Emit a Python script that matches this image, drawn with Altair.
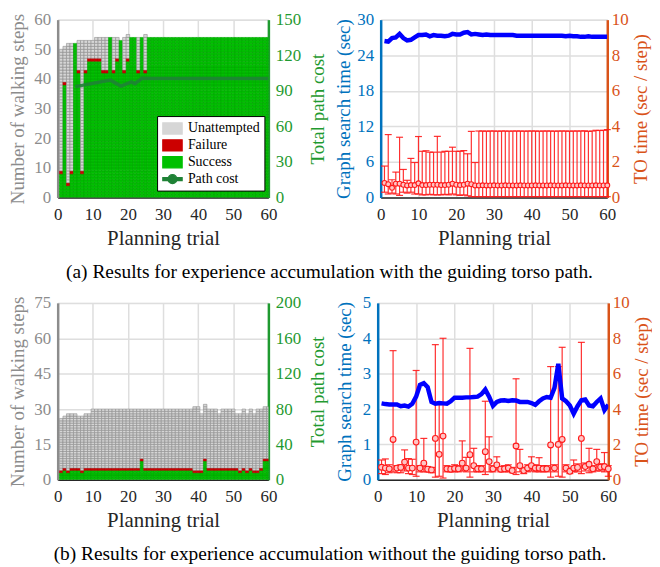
import altair as alt
import pandas as pd

SERIF = "Liberation Serif"
DARK = "#262626"
GRID = "#dedede"
GRAY = "#8c8c8c"
GREEN_AX = "#1f9a30"
BLUE_AX = "#0072bd"
ORANGE_AX = "#d95319"
BLUE_LINE = "#0000ff"
RED = "#ff1a1a"

trials = list(range(1, 61))
x_ticks = [0, 10, 20, 30, 40, 50, 60]

# ---------- (a) left: walking steps per trial ----------
tl_total = [50, 51, 52, 52, 52, 53, 53, 53, 53, 53,
            54, 54, 54, 54, 54, 54, 54, 53, 54, 55,
            54, 54, 54, 54, 55, 54, 54, 54, 54, 54,
            54, 54, 54, 54, 54, 54, 54, 54, 54, 54,
            54, 54, 54, 54, 54, 54, 54, 54, 54, 54,
            54, 54, 54, 54, 54, 54, 54, 54, 54, 54]
tl_success = [8, 38, 4, 8, 52, 42, 8, 42, 46, 46,
              46, 46, 42, 42, 54, 42, 46, 53, 42, 46,
              54, 54, 42, 54, 42, 54, 54, 54, 54, 54,
              54, 54, 54, 54, 54, 54, 54, 54, 54, 54,
              54, 54, 54, 54, 54, 54, 54, 54, 54, 54,
              54, 54, 54, 54, 54, 54, 54, 54, 54, 54]
tl_cost_trial = [5, 15, 18, 21, 22, 24, 26, 27, 28, 29, 30,
                 31, 32, 33, 34, 35, 36, 37, 38, 39, 40,
                 41, 42, 43, 44, 45, 46, 47, 48, 49, 50,
                 51, 52, 53, 54, 55, 56, 57, 58, 59, 60]
tl_cost = [93.5, 99.0, 94.0, 97.5, 96.0, 100.5, 100.3, 100.3, 100.3, 100.3, 100.3,
           100.3, 100.3, 100.3, 100.3, 100.3, 100.3, 100.3, 100.3, 100.3, 100.3,
           100.3, 100.3, 100.3, 100.3, 100.3, 100.3, 100.3, 100.3, 100.3, 100.3,
           100.3, 100.3, 100.3, 100.3, 100.3, 100.3, 100.3, 100.3, 100.3, 100.3]

# ---------- (a) right: times ----------
tr_graph = [26.4, 26.3, 26.9, 27.0, 27.6, 26.9, 26.5, 26.6, 27.0, 27.4,
            27.4, 27.5, 27.2, 27.4, 27.3, 27.3, 27.2, 27.3, 27.6, 27.5,
            27.5, 27.8, 27.9, 27.5, 27.6, 27.5, 27.4, 27.5, 27.4, 27.4,
            27.4, 27.4, 27.4, 27.4, 27.4, 27.3, 27.3, 27.3, 27.3, 27.3,
            27.3, 27.3, 27.3, 27.3, 27.3, 27.3, 27.3, 27.3, 27.2, 27.3,
            27.2, 27.2, 27.1, 27.1, 27.2, 27.1, 27.1, 27.1, 27.1, 27.1]
tr_mean = [0.82, 0.75, 0.55, 0.78, 0.78, 0.72, 0.68, 0.70, 0.70, 0.80,
           0.70, 0.70, 0.72, 0.72, 0.72, 0.70, 0.70, 0.72, 0.78, 0.72,
           0.70, 0.72, 0.78, 0.75, 0.68, 0.68, 0.69, 0.68, 0.68, 0.69,
           0.68, 0.68, 0.69, 0.68, 0.68, 0.68, 0.69, 0.68, 0.68, 0.68,
           0.69, 0.68, 0.68, 0.68, 0.69, 0.68, 0.68, 0.68, 0.69, 0.68,
           0.68, 0.68, 0.69, 0.68, 0.68, 0.68, 0.69, 0.68, 0.68, 0.69]
tr_hi = [1.77, 3.54, 1.00, 1.43, 3.39, 1.58, 0.97, 2.20, 1.97, 3.43,
         2.60, 2.63, 2.55, 2.55, 3.44, 2.55, 2.60, 2.60, 2.83, 2.60,
         2.60, 2.64, 2.46, 3.72, 1.97, 3.74, 3.74, 3.73, 3.74, 3.74,
         3.73, 3.74, 3.74, 3.73, 3.74, 3.74, 3.74, 3.73, 3.74, 3.74,
         3.74, 3.73, 3.74, 3.74, 3.74, 3.73, 3.74, 3.74, 3.74, 3.73,
         3.74, 3.74, 3.74, 3.75, 3.72, 3.74, 3.78, 3.77, 3.78, 3.82]
tr_lo = [0.30, 0.20, 0.25, 0.20, 0.12, 0.30, 0.25, 0.30, 0.20, 0.20,
         0.15, 0.15, 0.18, 0.15, 0.15, 0.15, 0.18, 0.15, 0.20, 0.15,
         0.12, 0.15, 0.10, 0.05, 0.05, 0.05, 0.05, 0.05, 0.05, 0.05,
         0.05, 0.05, 0.05, 0.05, 0.05, 0.05, 0.05, 0.05, 0.05, 0.05,
         0.05, 0.05, 0.05, 0.05, 0.05, 0.05, 0.05, 0.05, 0.05, 0.05,
         0.05, 0.05, 0.05, 0.05, 0.05, 0.05, 0.05, 0.05, 0.05, 0.05]

# ---------- (b) left: walking steps per trial ----------
bl_total = [26, 27, 28, 28, 28, 27, 27, 28, 28, 30,
            30, 30, 30, 30, 30, 30, 30, 30, 30, 30,
            30, 30, 30, 30, 30, 30, 30, 30, 30, 30,
            30, 30, 30, 30, 30, 30, 30, 30, 31, 31,
            28, 32, 30, 30, 30, 28, 30, 30, 30, 30,
            28, 28, 30, 28, 30, 28, 30, 30, 31, 31]
bl_success = [3, 4, 3, 4, 4, 4, 3, 4, 4, 4,
              4, 4, 4, 4, 4, 4, 4, 4, 4, 4,
              4, 4, 4, 8, 4, 4, 4, 4, 4, 4,
              4, 4, 4, 4, 4, 4, 4, 4, 3, 3,
              3, 8, 4, 4, 4, 4, 4, 4, 4, 4,
              4, 3, 4, 3, 4, 3, 3, 4, 8, 8]

# ---------- (b) right: times ----------
br_graph = [2.16, 2.14, 2.13, 2.13, 2.13, 2.08, 2.10, 2.07, 2.15, 2.35,
            2.68, 2.73, 2.62, 2.20, 2.15, 2.17, 2.16, 2.15, 2.22, 2.32,
            2.32, 2.32, 2.33, 2.33, 2.34, 2.35, 2.42, 2.55, 2.35, 2.09,
            2.20, 2.24, 2.25, 2.23, 2.25, 2.24, 2.20, 2.20, 2.20, 2.17,
            2.12, 2.22, 2.30, 2.34, 2.32, 2.60, 3.28, 2.30, 2.22, 2.10,
            1.87, 2.08, 2.25, 2.27, 2.10, 2.08, 2.20, 2.30, 1.97, 2.12]
br_mean = [0.71, 0.66, 0.62, 2.28, 0.66, 0.70, 1.00, 0.66, 0.66, 2.13,
           0.66, 0.94, 0.60, 0.56, 2.34, 1.44, 2.47, 0.62, 0.60, 0.64,
           0.62, 0.94, 0.66, 1.42, 0.80, 0.62, 0.62, 1.59, 1.03, 0.62,
           0.84, 0.60, 0.62, 0.66, 0.52, 1.91, 0.80, 0.52, 0.66, 0.80,
           0.66, 0.66, 0.62, 0.62, 1.97, 0.66, 2.00, 2.28, 0.66, 0.48,
           0.66, 0.70, 2.34, 0.75, 0.88, 0.62, 1.03, 0.72, 0.75, 0.62]
br_hi = [1.12, 1.18, 0.85, 7.30, 0.80, 0.85, 1.69, 1.20, 1.16, 6.18,
         0.80, 2.34, 0.75, 0.70, 7.64, 4.25, 8.00, 0.80, 0.75, 0.85,
         0.80, 2.20, 1.27, 7.43, 1.78, 0.80, 0.80, 4.44, 2.43, 0.80,
         1.30, 0.75, 0.80, 0.85, 0.70, 5.71, 1.72, 0.70, 0.85, 1.30,
         0.85, 1.25, 0.80, 0.80, 6.40, 0.85, 6.40, 7.49, 0.85, 0.65,
         1.12, 0.90, 7.77, 0.95, 1.78, 0.80, 1.72, 0.90, 1.54, 0.80]
br_lo = [0.35, 0.30, 0.40, 0.45, 0.40, 0.40, 0.50, 0.35, 0.30, 0.20,
         0.45, 0.45, 0.45, 0.40, 0.15, 0.20, 0.10, 0.45, 0.45, 0.45,
         0.45, 0.50, 0.45, 0.15, 0.45, 0.45, 0.45, 0.30, 0.45, 0.45,
         0.55, 0.45, 0.45, 0.45, 0.40, 0.30, 0.45, 0.35, 0.45, 0.50,
         0.45, 0.45, 0.45, 0.45, 0.15, 0.45, 0.20, 0.15, 0.45, 0.35,
         0.45, 0.45, 0.35, 0.50, 0.40, 0.45, 0.50, 0.50, 0.45, 0.20]

caption_a = "(a) Results for experience accumulation with the guiding torso path."
caption_b = "(b) Results for experience accumulation without the guiding torso path."

status_dom = ["Unattempted", "Failure", "Success", "Path cost"]
fill_rng = ["#d6d6d6", "#cc0000", "#00c000", "#1f8236"]
stroke_rng = ["#8e8e8e", "#b00000", "#00a800", "#1f8236"]

XTITLE_FS = 21
YTITLE_FS = 19
LABEL_FS = 17


def cells(total, success):
    rows = []
    for t, T, S in zip(trials, total, success):
        for s in range(T):
            if s < S:
                st = "Success"
            elif s == S:
                st = "Failure"
            else:
                st = "Unattempted"
            rows.append({"x0": t - 0.5, "x1": t + 0.5, "s0": s, "s1": s + 1, "status": st})
    return pd.DataFrame(rows)


def x_axis():
    return alt.Axis(values=x_ticks, title="Planning trial", titleFont=SERIF,
                    titleFontSize=XTITLE_FS, titleFontWeight="normal", titleColor=DARK,
                    labelFont=SERIF, labelFontSize=LABEL_FS, labelColor=DARK,
                    domainColor=DARK, domainWidth=1.5, ticks=False, labelPadding=9,
                    titlePadding=5, gridColor=GRID, gridWidth=1.5, labelFlush=False)


def y_axis(title, color, values, orient, grid, lpad, tpad):
    extra = {}
    if orient == "right":
        extra["titleBaseline"] = "top"
    return alt.Axis(title=title, orient=orient, values=values, titleFont=SERIF,
                    titleFontSize=YTITLE_FS, titleFontWeight="normal", titleColor=color,
                    labelFont=SERIF, labelFontSize=LABEL_FS, labelColor=color,
                    domainColor=color, domainWidth=2.5, ticks=False, labelPadding=lpad,
                    titlePadding=tpad, grid=grid, gridColor=GRID, gridWidth=1.5,
                    titleAngle=270, labelFlush=False, **extra)


x_scale = alt.Scale(domain=[0, 60], nice=False, zero=False)

PATCH = "M-1.3,-0.75L1.3,-0.75L1.3,0.75L-1.3,0.75Z"
COSTSYM = ("M-1.3,-0.2L1.3,-0.2L1.3,0.2L-1.3,0.2Z"
           "M0.6,0A0.6,0.6,0,1,1,-0.6,0A0.6,0.6,0,1,1,0.6,0Z")

legend_a = alt.Legend(
    title=None, orient="none", legendX=100, legendY=97,
    fillColor="white", strokeColor="black", padding=4,
    labelFont=SERIF, labelFontSize=14, labelColor="black",
    symbolSize=225, rowPadding=0, labelOffset=7, symbolOffset=3, symbolOpacity=1,
    symbolStrokeWidth=1.2,
    symbolType={"expr": "datum.value == 'Path cost' ? '" + COSTSYM + "' : '" + PATCH + "'"},
    symbolStrokeColor={"expr": "datum.value == 'Unattempted' ? '#555555' : (datum.value == 'Path cost' ? '#1f8236' : 'transparent')"},
)


def steps_panel(total, success, cost_trial, cost, ymax, yticks, cmax, cticks, legend, h):
    cell_df = cells(total, success)
    rects = alt.Chart(cell_df).mark_rect(strokeWidth=0.6, clip=True).encode(
        x=alt.X("x0:Q", scale=x_scale, axis=x_axis()),
        x2="x1:Q",
        y=alt.Y("s0:Q", scale=alt.Scale(domain=[0, ymax], nice=False),
                axis=y_axis("Number of walking steps", GRAY, yticks, "left", True, 7, 6)),
        y2="s1:Q",
        color=alt.Color("status:N", scale=alt.Scale(domain=status_dom, range=fill_rng),
                        legend=legend),
        stroke=alt.Stroke("status:N", scale=alt.Scale(domain=status_dom, range=stroke_rng),
                          legend=None),
    )
    cost_df = pd.DataFrame({"trial": cost_trial, "cost": cost,
                            "status": ["Path cost"] * len(cost_trial)})
    line = alt.Chart(cost_df).mark_line(strokeWidth=3.5, clip=True, opacity=0.9).encode(
        x=alt.X("trial:Q", scale=x_scale, axis=x_axis()),
        y=alt.Y("cost:Q", scale=alt.Scale(domain=[0, cmax], nice=False),
                axis=y_axis("Total path cost", GREEN_AX, cticks, "right", False, 7, 8)),
        color=alt.Color("status:N", scale=alt.Scale(domain=status_dom, range=fill_rng),
                        legend=legend),
    )
    return alt.layer(rects, line).resolve_scale(y="independent").properties(width=212, height=h)


def time_panel(graph, mean, hi, lo, gmax, gticks, w, h, msize, lpad, tpad):
    df = pd.DataFrame({"trial": trials, "graph": graph, "mean": mean, "hi": hi, "lo": lo})
    to_axis = y_axis("TO time (sec / step)", ORANGE_AX, [0, 2, 4, 6, 8, 10], "right", False, 4, 3)
    to_scale = alt.Scale(domain=[0, 10], nice=False)
    bars = alt.Chart(df).mark_rule(color=RED, strokeWidth=1.2, opacity=0.9).encode(
        x=alt.X("trial:Q", scale=x_scale, axis=x_axis()),
        y=alt.Y("lo:Q", scale=to_scale, axis=to_axis), y2="hi:Q")
    cap_hi = alt.Chart(df).mark_tick(color=RED, orient="horizontal", size=7, thickness=1.2,
                                     opacity=0.9).encode(
        x=alt.X("trial:Q", scale=x_scale, axis=x_axis()),
        y=alt.Y("hi:Q", scale=to_scale, axis=to_axis))
    cap_lo = alt.Chart(df).mark_tick(color=RED, orient="horizontal", size=7, thickness=1.2,
                                     opacity=0.9).encode(
        x=alt.X("trial:Q", scale=x_scale, axis=x_axis()),
        y=alt.Y("lo:Q", scale=to_scale, axis=to_axis))
    pts = alt.Chart(df).mark_point(shape="circle", size=msize, fill="#ffc4c4", fillOpacity=1,
                                   stroke=RED, strokeWidth=1.1, opacity=1).encode(
        x=alt.X("trial:Q", scale=x_scale, axis=x_axis()),
        y=alt.Y("mean:Q", scale=to_scale, axis=to_axis))
    red = alt.layer(bars, cap_hi, cap_lo, pts)
    blue = alt.Chart(df).mark_line(color=BLUE_LINE, strokeWidth=4.5, clip=True).encode(
        x=alt.X("trial:Q", scale=x_scale, axis=x_axis()),
        y=alt.Y("graph:Q", scale=alt.Scale(domain=[0, gmax], nice=False),
                axis=y_axis("Graph search time (sec)", BLUE_AX, gticks, "left", True, lpad, tpad)))
    return alt.layer(red, blue).resolve_scale(y="independent").properties(width=w, height=h)


tl = steps_panel(tl_total, tl_success, tl_cost_trial, tl_cost, 60, [0, 10, 20, 30, 40, 50, 60],
                 150, [0, 30, 60, 90, 120, 150], legend_a, 179)
tr = time_panel(tr_graph, tr_mean, tr_hi, tr_lo, 30, [0, 6, 12, 18, 24, 30], 228, 179, 24, 7, 3)
bl = steps_panel(bl_total, bl_success, [], [], 75, [0, 15, 30, 45, 60, 75],
                 200, [0, 40, 80, 120, 160, 200], None, 178)
br = time_panel(br_graph, br_mean, br_hi, br_lo, 5, [0, 1, 2, 3, 4, 5], 232, 178, 34, 7, 8)


def cap(text):
    return alt.TitleParams(text=text, orient="bottom", anchor="middle", font=SERIF,
                           fontSize=19.5, fontWeight="normal", color="black", offset=14)


row1 = alt.hconcat(tl, tr, spacing=6, title=cap(caption_a))
row2 = alt.hconcat(bl, br, spacing=6, title=cap(caption_b))

chart = alt.vconcat(row1, row2, spacing=12).properties(padding=0).configure_view(
    stroke=DARK, strokeWidth=1.5
).configure(font=SERIF, background="white")

chart.save("out.html", embed_options={"renderer": "svg", "actions": False})
